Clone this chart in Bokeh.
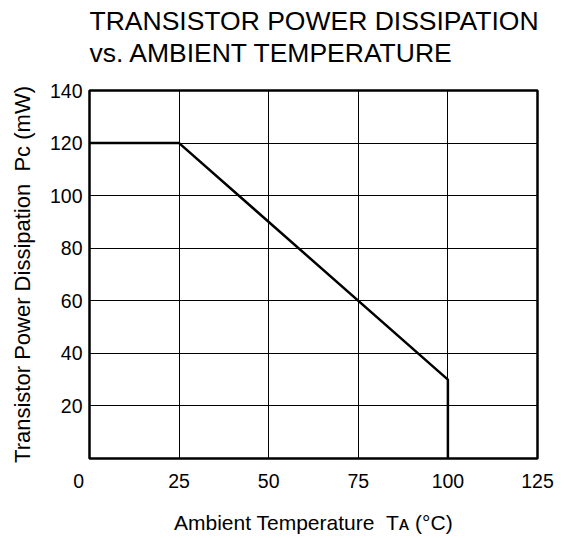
from bokeh.plotting import figure
from bokeh.models import FixedTicker, Range1d, Title
from bokeh.embed import file_html
from bokeh.resources import INLINE

# ---- data ----
temp_c = [0, 25, 100, 100]          # ambient temperature (°C)
power_mw = [120, 120, 30, 0]        # transistor power dissipation (mW)
x_ticks = [0, 25, 50, 75, 100, 125]
x_tick_labels = {0: "0\u2007\u2007"}  # origin label sits left of the corner
y_ticks = [20, 40, 60, 80, 100, 120, 140]
title_lines = ["TRANSISTOR POWER DISSIPATION", "vs. AMBIENT TEMPERATURE"]
x_title = "Ambient Temperature \u00a0T\u1d00 (\u00b0C)"
y_title = "Transistor Power Dissipation \u00a0P\u1d04 (mW)"

FONT = "Liberation Sans"

p = figure(width=560, height=536, output_backend="svg", toolbar_location=None,
           x_range=Range1d(0, 125), y_range=Range1d(0, 140),
           min_border_left=89, min_border_right=23, min_border_top=90, min_border_bottom=72)
p.title = None
p.background_fill_color = "white"
p.border_fill_color = "white"
p.outline_line_color = "black"
p.outline_line_width = 2.5

# titles: first added sits closest to the frame (a tiny blank title acts as a spacer)
p.add_layout(Title(text=" ", standoff=20, text_font=FONT, text_font_size="1px"), "above")
p.add_layout(Title(text=title_lines[1], align="left", offset=0, standoff=0,
                   text_font=FONT, text_font_size="26.5px", text_font_style="normal",
                   text_color="black"), "above")
p.add_layout(Title(text=title_lines[0], align="left", offset=0, standoff=0,
                   text_font=FONT, text_font_size="26.5px", text_font_style="normal",
                   text_color="black"), "above")

for ax in (p.xaxis[0], p.yaxis[0]):
    ax.axis_line_color = None
    ax.major_tick_line_color = None
    ax.minor_tick_line_color = None
    ax.major_tick_out = 0
    ax.major_tick_in = 0
    ax.major_label_text_font = FONT
    ax.major_label_text_font_size = "19.5px"
    ax.major_label_text_color = "black"
    ax.axis_label_text_font = FONT
    ax.axis_label_text_font_style = "normal"
    ax.axis_label_text_color = "black"

p.xaxis.axis_label_text_font_size = "21px"
p.yaxis.axis_label_text_font_size = "22px"
p.xaxis.ticker = FixedTicker(ticks=x_ticks)
p.xaxis.major_label_overrides = x_tick_labels
p.yaxis.ticker = FixedTicker(ticks=y_ticks)
p.xaxis.major_label_standoff = 11
p.yaxis.major_label_standoff = 7
p.xaxis.axis_label = x_title
p.yaxis.axis_label = y_title
p.xaxis.axis_label_standoff = 16
p.yaxis.axis_label_standoff = 12

p.xgrid.ticker = FixedTicker(ticks=x_ticks)
p.ygrid.ticker = FixedTicker(ticks=y_ticks)
for g in (p.xgrid[0], p.ygrid[0]):
    g.grid_line_color = "black"
    g.grid_line_width = 1
    g.grid_line_alpha = 1.0

p.line(temp_c, power_mw, line_color="black", line_width=2.5)

open("out.html", "w").write(file_html(p, INLINE))
